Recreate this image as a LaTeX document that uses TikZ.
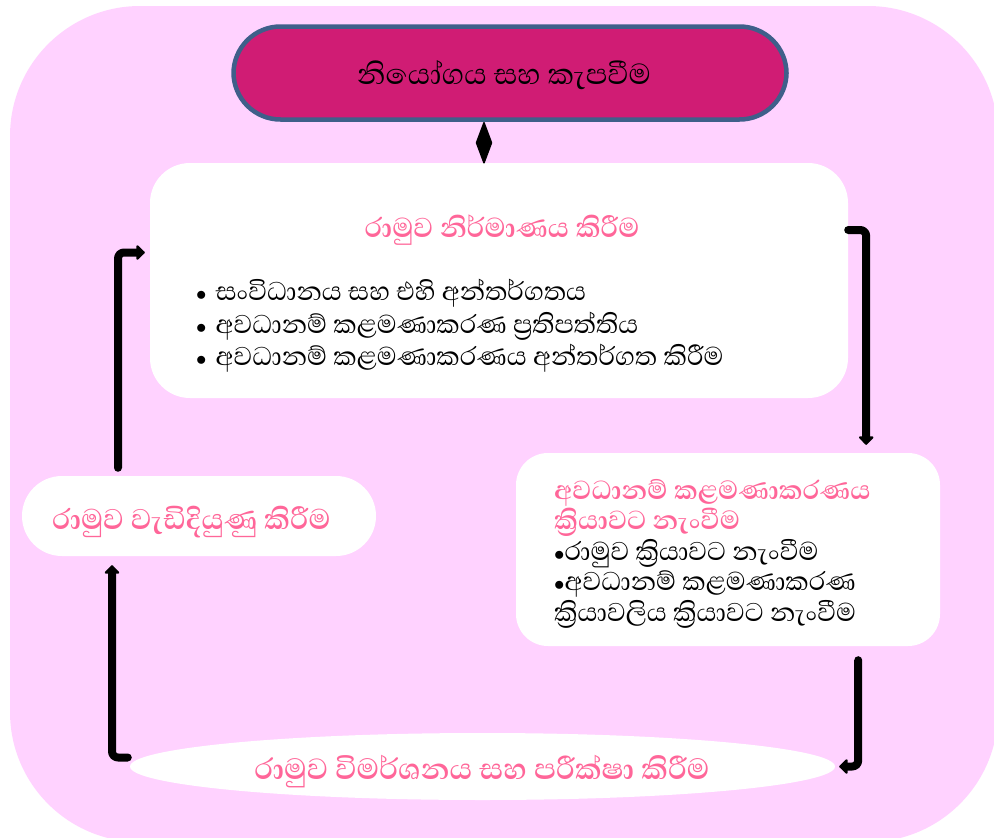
\documentclass[tikz,border=0pt]{standalone}
\usepackage{fontspec}
\setmainfont[Script=Sinhala]{Abhaya Libre}
\usetikzlibrary{arrows.meta,shapes.geometric,calc}
\definecolor{bgpink}{RGB}{255,210,255}
\definecolor{topfill}{RGB}{208,28,116}
\definecolor{topline}{RGB}{63,95,138}
\definecolor{titlepink}{RGB}{255,102,153}
\newcommand{\bul}{{\fontsize{20}{20}\selectfont$\bullet$}}
\begin{document}
\begin{tikzpicture}[x=1pt,y=-1pt,
  wbox/.style={fill=white,draw=none,inner sep=0pt},
  toptext/.style={font=\fontsize{37}{40}\selectfont},
  ptitle/.style={text=titlepink,font=\fontsize{35}{40}\selectfont\bfseries,inner sep=0pt},
  btext/.style={font=\fontsize{33}{32.5}\selectfont,align=left,inner sep=0pt},
  conn/.style={line width=8pt,line cap=round,line join=round,rounded corners=6pt,-{Triangle[width=17pt,length=9pt,round]}},
  diam/.style={fill=black,draw=black,line width=1.5pt,line join=round}]
\path[use as bounding box] (0,0) rectangle (994,838);
\fill[bgpink,rounded corners=130pt] (10,6) rectangle (998,842);
% nodes
\node[draw=topline,line width=4.5pt,fill=topfill,rounded corners=47pt,minimum width=553pt,minimum height=93pt,inner sep=0pt] (mc) at (510,73) {};
\node[toptext] (mct) at (504,75) {නියෝගය සහ කැපවීම};
\node[wbox,rounded corners=40pt,minimum width=698pt,minimum height=235pt] (frame) at (499,280.5) {};
\node[ptitle] (t1) at (502,230) {රාමුව නිර්මාණය කිරීම};
\node[btext,anchor=north west] (b1) at (196,279) {\bul\hspace{9pt}සංවිධානය සහ එහි අන්තර්ගතය\\
\bul\hspace{9pt}අවධානම් කළමණාකරණ ප්^^^^200dරතිපත්තිය\\
\bul\hspace{9pt}අවධානම් කළමණාකරණය අන්තර්ගත කිරීම};
\node[wbox,rounded corners=32pt,minimum width=424pt,minimum height=193pt] (impl) at (728,549.5) {};
\node[btext,anchor=north west,font=\fontsize{33}{30.5}\selectfont] (b2) at (554,479) {\textcolor{titlepink}{\bfseries\fontsize{33.5}{30.5}\selectfont අවධානම් කළමණාකරණය}\\
\textcolor{titlepink}{\bfseries\fontsize{33.5}{30.5}\selectfont ක්^^^^200dරියාවට නැංවීම}\\
\bul රාමුව ක්^^^^200dරියාවට නැංවීම\\
\bul අවධානම් කළමණාකරණ\\
ක්^^^^200dරියාවලිය ක්^^^^200dරියාවට නැංවීම};
\node[wbox,ellipse,minimum width=705pt,minimum height=67pt] (rev) at (482.5,766.5) {};
\node[ptitle,font=\fontsize{37.5}{40}\selectfont\bfseries] (t3) at (482,772) {රාමුව විමර්ශනය සහ පරීක්ෂා කිරීම};
\node[wbox,rounded corners=40pt,minimum width=354pt,minimum height=80pt] (imp) at (199,516) {};
\node[ptitle,anchor=west,font=\fontsize{36.5}{40}\selectfont\bfseries] (t4) at (52,522) {රාමුව වැඩිදියුණු කිරීම};
% connectors
\coordinate (dtop) at ($(mc.south)+(-26,1)$);
\coordinate (dbot) at (dtop |- frame.north);
\draw[diam] (dtop) -- ($(dtop)!0.5!(dbot)+(7.5,0)$) -- (dbot) -- ($(dtop)!0.5!(dbot)+(-7.5,0)$) -- cycle;
\draw[conn] (frame.east |- t1) -| ($(impl.north east)+(-74,-8)$);
\draw[conn] ($(impl.south east)+(-82,14)$) |- ($(rev.east)+(4,0)$);
\draw[conn] ($(rev.west)+(-2,-9)$) -| ($(imp.south)+(-87,9)$);
\draw[conn] ($(imp.north)+(-81,-8)$) |- ($(frame.west)+(-5,-28)$);
\end{tikzpicture}
\end{document}
